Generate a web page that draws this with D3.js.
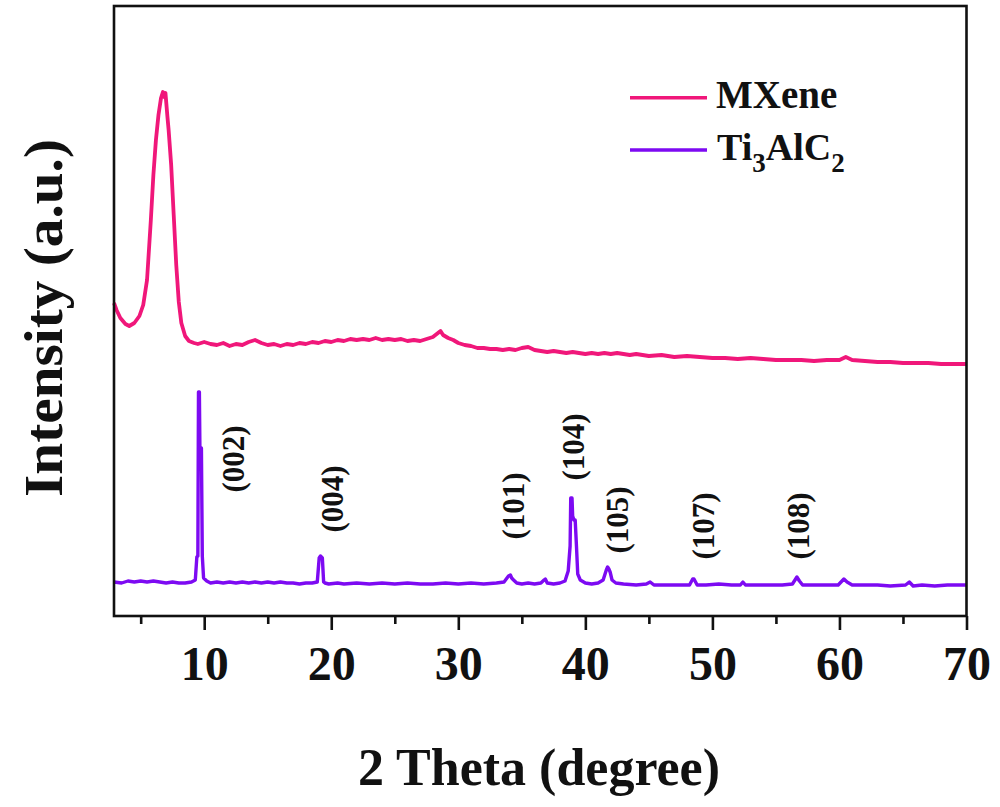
<!DOCTYPE html>
<html>
<head>
<meta charset="utf-8">
<script src="https://cdn.jsdelivr.net/npm/d3@7"></script>
<style>
  html, body { margin: 0; padding: 0; background: #fff; }
  svg { display: block; }
  text { font-family: "Liberation Serif", "Times New Roman", serif; font-weight: bold; fill: #111; }
</style>
</head>
<body>
<svg id="chart" width="1000" height="807"></svg>
<script>
// ---------------- data ----------------
const seriesNames = ["MXene", "Ti3AlC2"];

const mxeneAngle = [2.9,3.1,3.4,3.8,4.1,4.5,4.9,5.2,5.5,5.8,6.0,6.2,6.4,6.6,6.75,6.85,6.95,7.1,7.2,7.4,7.6,7.8,8.0,8.2,8.5,8.8,9.2,
  9.5,10,10.5,11,11.5,12,12.5,13,13.5,14,14.5,15,15.5,16,16.5,17,17.5,18,18.5,19,19.5,20,20.5,21,21.5,22,22.5,23,23.5,24,24.5,25,25.5,26,26.5,27,27.5,28,28.4,28.6,28.8,29.2,29.6,
  30,30.5,31,31.5,32,32.5,33,33.5,34,34.5,35,35.5,36,36.5,37,37.5,38,38.5,39,39.5,40,40.5,41,41.5,42,42.5,43,43.5,44,44.5,
  45,46,47,48,49,50,51,52,53,54,55,56,57,58,59,60,60.5,61,62,63,64,65,66,67,68,69,70];
const mxeneIntensity = [313,306,298,292,290,293,300,311,336,396,441,476,501,518,524,519,523,500,486,451,401,351,314,293,280,275,273,
  272,274,272,271,273,270,272,271,274,276,273,271,272,270,272,271,273,272,274,273,275,274,276,275,277,276,277,276,278,276,277,276,277,275,276,275,277,279,283,285,281,278,276,
  273,271,270,268,268,267,267,266,267,266,268,269,266,265,264,265,264,263,264,263,262,263,262,263,262,263,262,261,262,261,
  260,261,259,260,259,258,258,257,258,257,256,256,256,255,256,256,259,256,255,254,254,253,253,253,252,252,252];

const ticAngle = [2.9,3.5,4,4.5,5,5.5,6,6.5,7,7.5,8,8.5,9,9.3,9.42,9.5,9.55,9.62,9.66,9.72,9.78,9.85,9.95,10.2,10.5,11,11.5,12,12.5,13,13.5,14,14.5,15,15.5,16,16.5,17,17.5,18,18.5,18.9,19.05,19.15,19.3,19.4,19.5,19.8,
  20.5,21,22,23,24,25,26,27,28,29,30,31,32,33,33.6,33.95,34.1,34.2,34.35,34.6,35,35.5,36,36.5,36.75,36.85,37.0,37.5,38,38.4,38.65,38.8,38.85,38.95,39.0,39.1,39.2,39.3,39.4,39.6,40,40.5,41,41.4,41.65,41.75,41.85,41.95,42.1,42.4,
  43,44,44.8,45.1,45.4,46,47,48.2,48.45,48.55,48.8,49.5,50.5,51.5,52.2,52.4,52.6,53.5,54.5,55.5,56.3,56.5,56.65,56.85,57.1,58,59,59.9,60.2,60.35,60.6,61,62,63,64,65.2,65.5,65.8,66.5,67.5,68.5,69.5,70];
const ticIntensity = [34,33,35,34,35,34,35,34,33,34,33,33,34,36,59,60,224,224,170,168,168,60,38,35,33,34,33,34,33,34,33,34,33,34,33,34,33,33,32,33,33,34,58,60,58,34,33,32,
  33,32,33,32,33,32,33,32,32,33,32,33,32,33,34,40,41,38,36,33,32,33,32,33,36,37,33,32,33,35,45,70,118,118,100,96,96,70,42,36,33,32,33,36,46,49,47,44,36,33,
  32,31,32,34,31,31,31,31,37,37,31,31,32,31,31,34,31,31,31,31,32,36,39,35,31,31,31,31,35,37,34,31,31,31,30,31,34,30,31,30,31,31,31];

const xTickValues = [10, 20, 30, 40, 50, 60, 70];
const xMinorTickValues = [5, 15, 25, 35, 45, 55, 65];

const peakLabels = ["(002)", "(004)", "(101)", "(104)", "(105)", "(107)", "(108)"];
const peakLabelAngle = [12.31, 20.06, 34.35, 39.08, 42.55, 49.32, 56.81];
const peakLabelLevel = [157, 117, 110, 169, 96, 90, 90];

const colors = ["#F0177A", "#7D0AF2"];

// ---------------- layout ----------------
const svg = d3.select("#chart");
const plotLeft = 114, plotRight = 966.5, plotTop = 6, plotBottom = 616;

const x = d3.scaleLinear().domain([2.9, 70]).range([plotLeft, plotRight]);
const y = d3.scaleLinear().domain([0, 610]).range([plotBottom, plotTop]);

svg.append("rect").attr("width", 1000).attr("height", 807).attr("fill", "#fff");

// curves
const line = d3.line().x(d => x(d[0])).y(d => y(d[1]));
const mxData = mxeneAngle.map((a, i) => [a, mxeneIntensity[i]]);
const ticData = ticAngle.map((a, i) => [a, ticIntensity[i]]);

svg.append("path").datum(mxData).attr("d", line)
  .attr("fill", "none").attr("stroke", colors[0]).attr("stroke-width", 3.8).attr("stroke-linejoin", "round");
svg.append("path").datum(ticData).attr("d", line)
  .attr("fill", "none").attr("stroke", colors[1]).attr("stroke-width", 3.4).attr("stroke-linejoin", "round");

// frame
svg.append("rect").attr("x", plotLeft).attr("y", plotTop).attr("width", plotRight - plotLeft).attr("height", plotBottom - plotTop)
  .attr("fill", "none").attr("stroke", "#111").attr("stroke-width", 2.6);

// x axis - major
const gx = svg.append("g").attr("transform", `translate(0,${plotBottom})`)
  .call(d3.axisBottom(x).tickValues(xTickValues).tickSize(14).tickSizeOuter(0).tickFormat(d3.format("d")));
gx.select(".domain").remove();
gx.selectAll(".tick line").attr("stroke", "#111").attr("stroke-width", 2.6);
gx.selectAll(".tick text").attr("dy", null).attr("y", 64)
  .style("font-size", "48px").style("font-family", "'Liberation Serif', serif").style("font-weight", "bold").attr("fill", "#111");

// x axis - minor
const gxm = svg.append("g").attr("transform", `translate(0,${plotBottom})`)
  .call(d3.axisBottom(x).tickValues(xMinorTickValues).tickSize(8).tickSizeOuter(0).tickFormat(""));
gxm.select(".domain").remove();
gxm.selectAll(".tick line").attr("stroke", "#111").attr("stroke-width", 2.6);

// axis titles
svg.append("text").attr("x", 539).attr("y", 785).attr("text-anchor", "middle")
  .style("font-size", "52px").text("2 Theta (degree)");
svg.append("text").attr("transform", "translate(62,318) rotate(-90)").attr("text-anchor", "middle")
  .style("font-size", "55px").attr("textLength", 358).attr("lengthAdjust", "spacingAndGlyphs").text("Intensity (a.u.)");

// peak labels
peakLabels.forEach((lab, i) => {
  svg.append("text")
    .attr("transform", `translate(${x(peakLabelAngle[i])},${y(peakLabelLevel[i])}) rotate(-90)`)
    .attr("text-anchor", "middle").attr("dominant-baseline", "central")
    .style("font-size", "31px").text(lab);
});

// legend
const legY = [97.7, 150];
seriesNames.forEach((name, i) => {
  svg.append("line").attr("x1", 630).attr("x2", 707).attr("y1", legY[i]).attr("y2", legY[i])
    .attr("stroke", colors[i]).attr("stroke-width", 3.6);
});
svg.append("text").attr("x", 716).attr("y", 108).style("font-size", "39px").text("MXene");
const t2 = svg.append("text").attr("x", 717).attr("y", 160).style("font-size", "38px");
t2.append("tspan").text("Ti");
t2.append("tspan").attr("dy", 12).style("font-size", "27px").text("3");
t2.append("tspan").attr("dy", -12).text("AlC");
t2.append("tspan").attr("dy", 12).style("font-size", "27px").text("2");
</script>
</body>
</html>
